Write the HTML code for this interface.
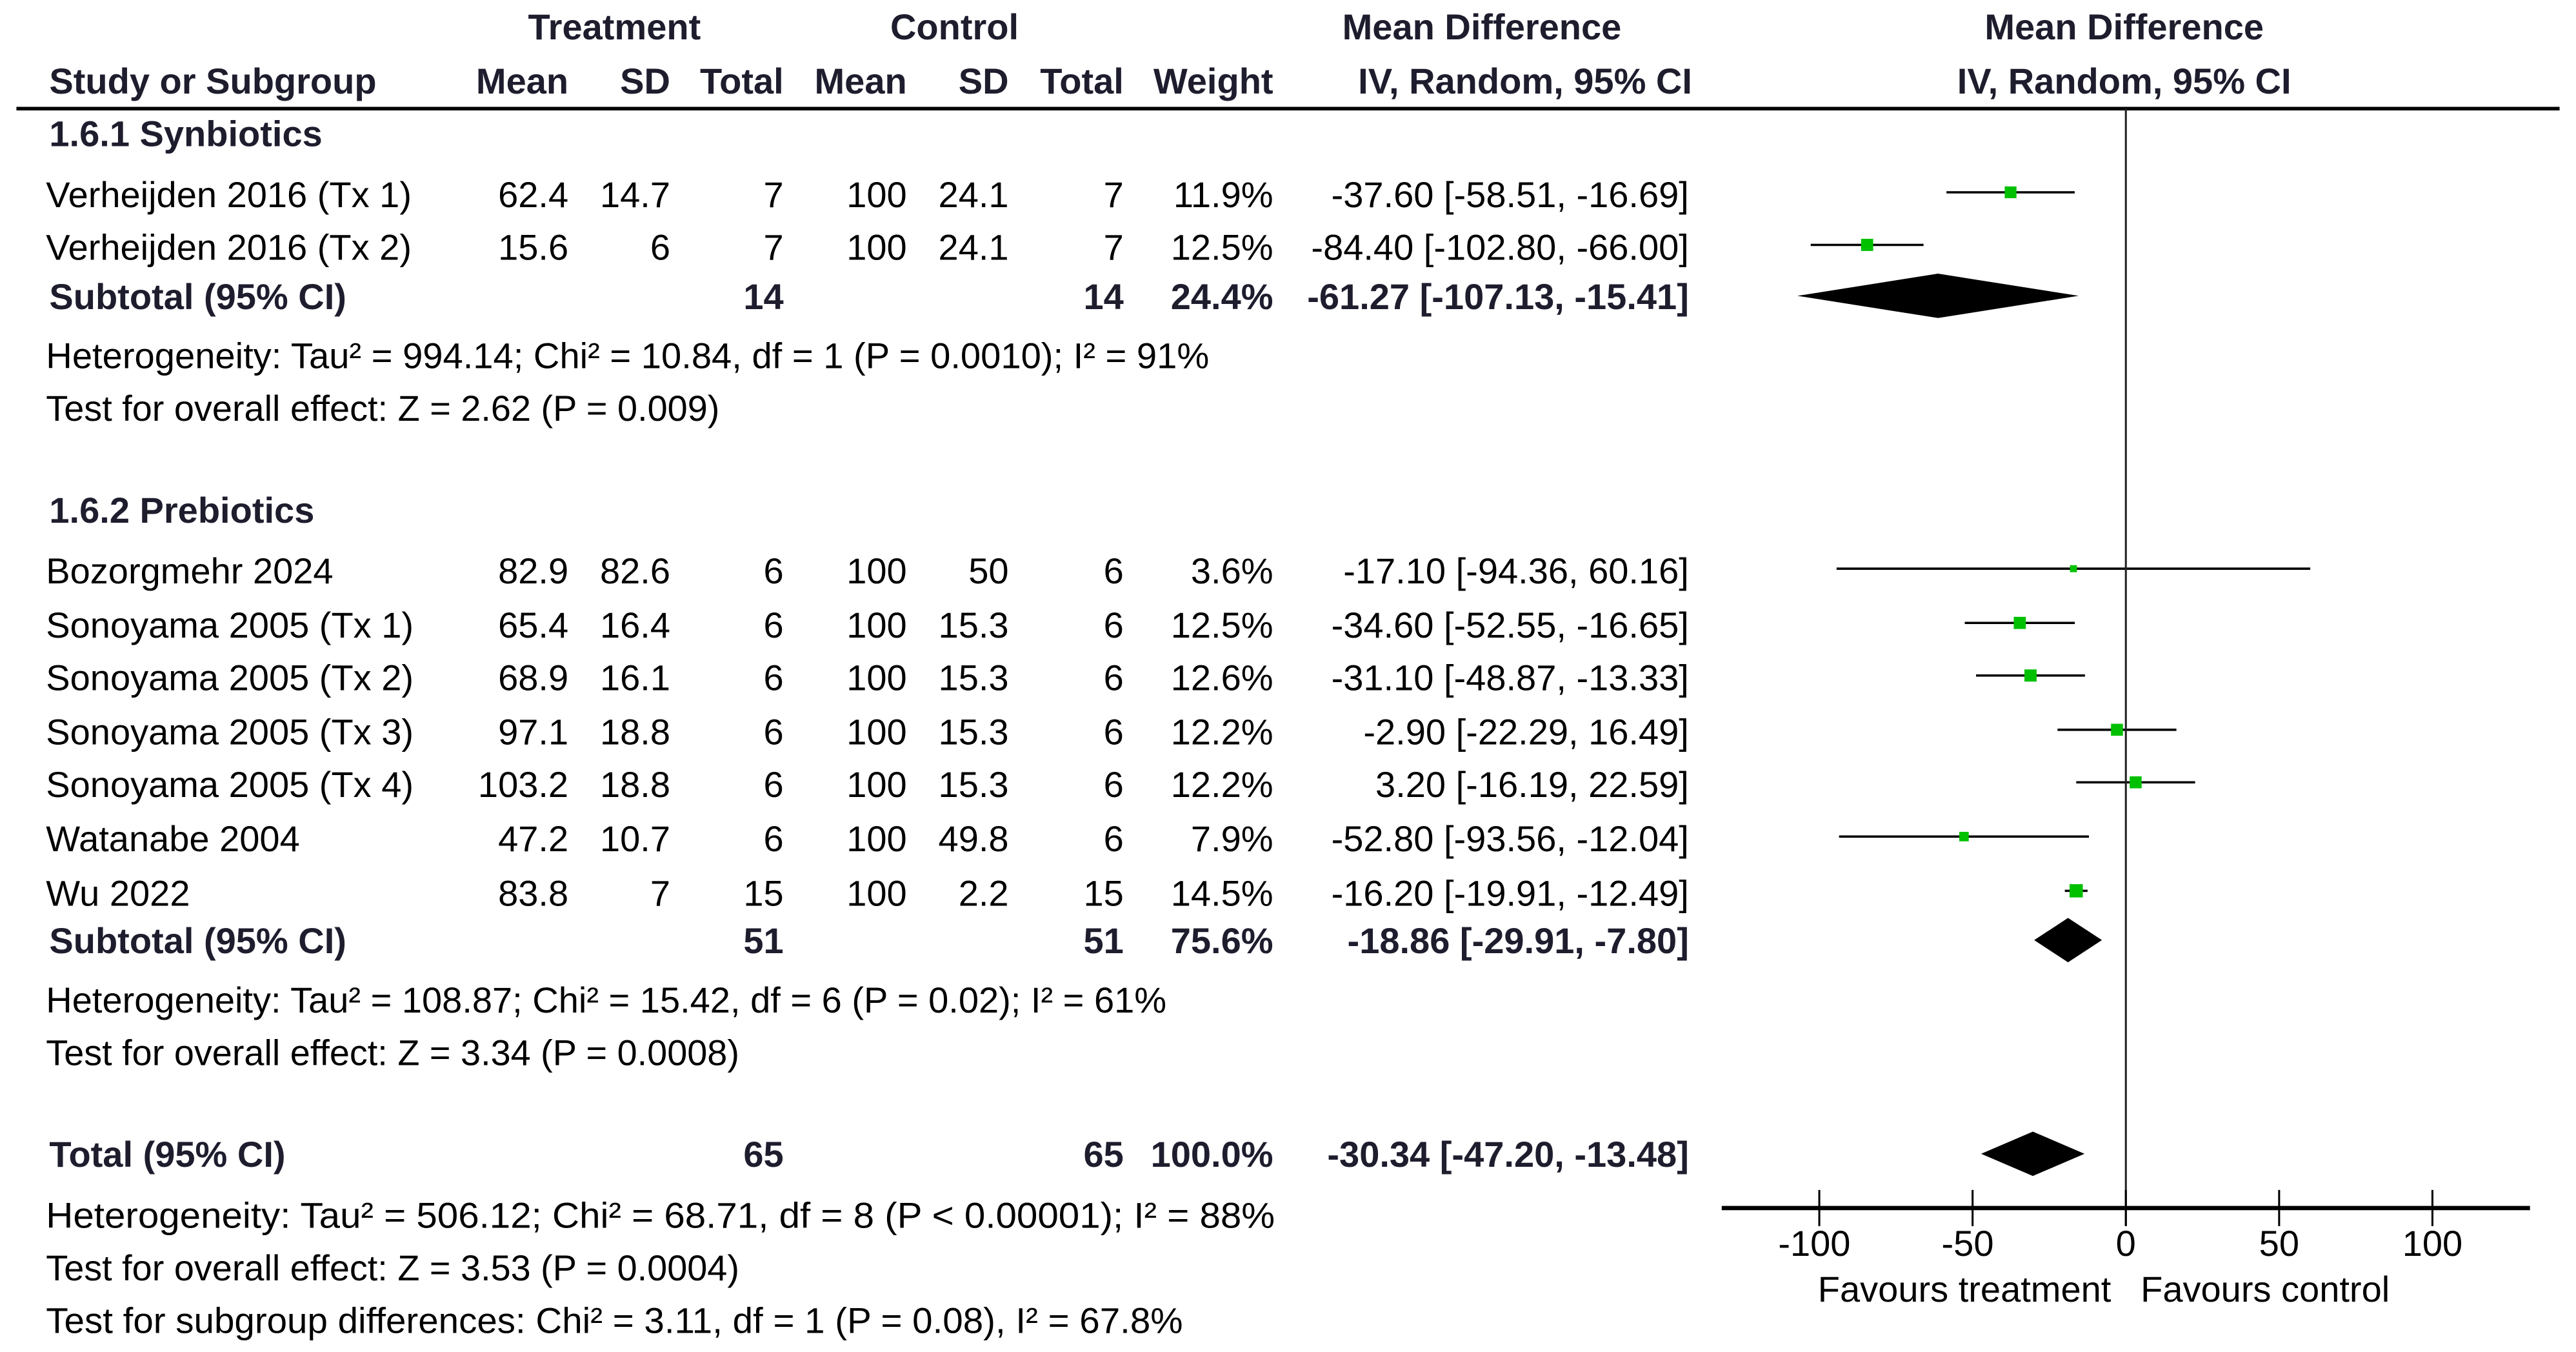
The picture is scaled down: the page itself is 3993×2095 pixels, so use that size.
<!DOCTYPE html>
<html><head><meta charset="utf-8">
<style>
html,body{margin:0;padding:0;background:#fff;}
svg{display:block;}
text{font-family:"Liberation Sans Narrow","Liberation Sans",sans-serif;font-size:22px;fill:#000;}
.b{font-weight:bold;fill:#1d1d2e;}
</style></head>
<body>
<svg width="3993" height="2095" viewBox="0 0 1568 822.6" preserveAspectRatio="none" xmlns="http://www.w3.org/2000/svg">
<g id="hdr">
<text class="b" x="374" y="24" text-anchor="middle">Treatment</text>
<text class="b" x="581" y="24" text-anchor="middle">Control</text>
<text class="b" x="902" y="24" text-anchor="middle">Mean Difference</text>
<text class="b" x="1293" y="24" text-anchor="middle">Mean Difference</text>
<text class="b" x="30" y="57">Study or Subgroup</text>
<text class="b" x="346" y="57" text-anchor="end">Mean</text>
<text class="b" x="408" y="57" text-anchor="end">SD</text>
<text class="b" x="477" y="57" text-anchor="end">Total</text>
<text class="b" x="552" y="57" text-anchor="end">Mean</text>
<text class="b" x="614" y="57" text-anchor="end">SD</text>
<text class="b" x="684" y="57" text-anchor="end">Total</text>
<text class="b" x="775" y="57" text-anchor="end">Weight</text>
<text class="b" x="1030" y="57" text-anchor="end">IV, Random, 95% CI</text>
<text class="b" x="1293" y="57" text-anchor="middle">IV, Random, 95% CI</text>
<rect x="10" y="65" width="1548" height="2.2" fill="#000"/>
</g>
<g id="tbl"></g>
<g id="plot"></g>
</svg>
<script>
const studies=["Verheijden 2016 (Tx 1)","Verheijden 2016 (Tx 2)","Bozorgmehr 2024","Sonoyama 2005 (Tx 1)","Sonoyama 2005 (Tx 2)","Sonoyama 2005 (Tx 3)","Sonoyama 2005 (Tx 4)","Watanabe 2004","Wu 2022"];
const tMean=["62.4","15.6","82.9","65.4","68.9","97.1","103.2","47.2","83.8"];
const tSD=["14.7","6","82.6","16.4","16.1","18.8","18.8","10.7","7"];
const tN=["7","7","6","6","6","6","6","6","15"];
const cMean=["100","100","100","100","100","100","100","100","100"];
const cSD=["24.1","24.1","50","15.3","15.3","15.3","15.3","49.8","2.2"];
const cN=["7","7","6","6","6","6","6","6","15"];
const weights=[11.9,12.5,3.6,12.5,12.6,12.2,12.2,7.9,14.5];
const md=[-37.60,-84.40,-17.10,-34.60,-31.10,-2.90,3.20,-52.80,-16.20];
const lo=[-58.51,-102.80,-94.36,-52.55,-48.87,-22.29,-16.19,-93.56,-19.91];
const hi=[-16.69,-66.00,60.16,-16.65,-13.33,16.49,22.59,-12.04,-12.49];
const rowY=[126,158,355,388,420,453,485,518,551];
const pooledNames=["Subtotal (95% CI)","Subtotal (95% CI)","Total (95% CI)"];
const pooledN=["14","51","65"];
const pooledW=["24.4%","75.6%","100.0%"];
const pooledMD=[-61.27,-18.86,-30.34];
const pooledLo=[-107.13,-29.91,-47.20];
const pooledHi=[-15.41,-7.80,-13.48];
const pooledY=[188,580,710];
const ticks=[-100,-50,0,50,100];

const NS="http://www.w3.org/2000/svg";
const x0=1294, scale=1.866;
function xs(v){return x0+v*scale;}
function f2(v){return v.toFixed(2);}
function mk(tag,attrs,parent,txt){const e=document.createElementNS(NS,tag);for(const k in attrs)e.setAttribute(k,attrs[k]);if(txt!==undefined)e.textContent=txt;parent.appendChild(e);return e;}
const tbl=document.getElementById('tbl'), plot=document.getElementById('plot');

function txt(x,y,s,anchor,bold,len){
  const a={x:x,y:y};
  if(anchor)a['text-anchor']=anchor;
  if(bold)a['class']='b';
  if(len){a.textLength=len;a.lengthAdjust='spacingAndGlyphs';}
  return mk('text',a,tbl,s);
}

let e;
e=txt(30,89,"1.6.1 Synbiotics",null,true);


e=txt(30,318,"1.6.2 Prebiotics",null,true);



for(let i=0;i<studies.length;i++){
  const y=rowY[i];
  e=txt(28,y,studies[i]);
  
  
  const cols=[[346,tMean[i]],[408,tSD[i]],[477,tN[i]],[552,cMean[i]],[614,cSD[i]],[684,cN[i]],[775,weights[i].toFixed(1)+"%"],[1028,f2(md[i])+" ["+f2(lo[i])+", "+f2(hi[i])+"]"]];
  for(const c of cols){
    e=txt(c[0],y,c[1],'end');
    
    
  }
  // plot marks
  const py=y-9;
  e=mk('line',{x1:xs(lo[i]),x2:xs(hi[i]),y1:py,y2:py,stroke:'#000','stroke-width':1.4},plot);
  
  
  const s=3+weights[i]*0.35;
  e=mk('rect',{x:xs(md[i])-s/2,y:py-s/2,width:s,height:s,fill:'#00c000'},plot);
  
  
}

for(let j=0;j<3;j++){
  const y=pooledY[j];
  e=txt(30,y,pooledNames[j],null,true);
  
  
  const cols=[[477,pooledN[j]],[684,pooledN[j]],[775,pooledW[j]],[1028,f2(pooledMD[j])+" ["+f2(pooledLo[j])+", "+f2(pooledHi[j])+"]"]];
  for(const c of cols){
    e=txt(c[0],y,c[1],'end',true);
    
    
  }
  const cy=y-8, h=13.5;
  e=mk('polygon',{points:xs(pooledLo[j])+","+cy+" "+xs(pooledMD[j])+","+(cy-h)+" "+xs(pooledHi[j])+","+cy+" "+xs(pooledMD[j])+","+(cy+h),fill:'#000'},plot);
  
  
}

const notes=[[224,"Heterogeneity: Tau\u00b2 = 994.14; Chi\u00b2 = 10.84, df = 1 (P = 0.0010); I\u00b2 = 91%",708],
[256,"Test for overall effect: Z = 2.62 (P = 0.009)",410],
[616,"Heterogeneity: Tau\u00b2 = 108.87; Chi\u00b2 = 15.42, df = 6 (P = 0.02); I\u00b2 = 61%",682],
[648,"Test for overall effect: Z = 3.34 (P = 0.0008)",422],
[747,"Heterogeneity: Tau\u00b2 = 506.12; Chi\u00b2 = 68.71, df = 8 (P < 0.00001); I\u00b2 = 88%",748],
[779,"Test for overall effect: Z = 3.53 (P = 0.0004)",422],
[811,"Test for subgroup differences: Chi\u00b2 = 3.11, df = 1 (P = 0.08), I\u00b2 = 67.8%",692]];
for(const n of notes){
  e=txt(28,n[0],n[1],null,false,n[2]);
  
  
}

// axis
e=mk('line',{x1:x0,x2:x0,y1:66,y2:746,stroke:'#222','stroke-width':1.2},plot);


e=mk('line',{x1:1048,x2:1540,y1:735,y2:735,stroke:'#000','stroke-width':2.6},plot);


for(const t of ticks){
  e=mk('line',{x1:xs(t),x2:xs(t),y1:724,y2:746,stroke:'#000','stroke-width':1.2},plot);
  
  
  e=mk('text',{x:xs(t)+(t<0?-3:0),y:764,'text-anchor':'middle'},plot,String(t));
  
  
}
e=mk('text',{x:1285,y:792,'text-anchor':'end'},plot,"Favours treatment");


e=mk('text',{x:1303,y:792},plot,"Favours control");


</script>
</body></html>
